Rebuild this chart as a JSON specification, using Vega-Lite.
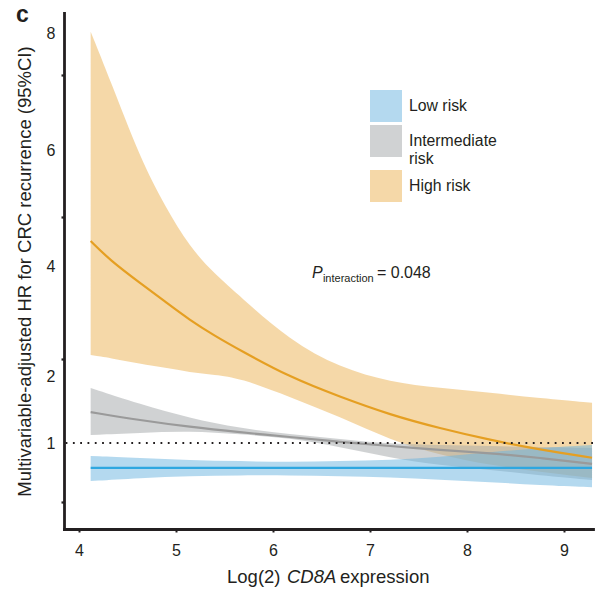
{
  "$schema": "https://vega.github.io/schema/vega-lite/v6.json",
  "width": 529,
  "height": 516,
  "autosize": {"type": "none"},
  "padding": {"left": 64, "top": 13, "right": 5, "bottom": 63},
  "background": "white",
  "config": {"view": {"stroke": null}, "font": "Liberation Sans"},
  "data": {"values": [
    {"group": "High risk", "x": 4.12, "hr": 4.43, "lo": 2.38, "hi": 8.02},
    {"group": "High risk", "x": 4.32, "hr": 4.1, "lo": 2.33, "hi": 7.20},
    {"group": "High risk", "x": 4.63, "hr": 3.69, "lo": 2.22, "hi": 5.86},
    {"group": "High risk", "x": 4.89, "hr": 3.35, "lo": 2.15, "hi": 5.02},
    {"group": "High risk", "x": 5.14, "hr": 3.02, "lo": 2.07, "hi": 4.33},
    {"group": "High risk", "x": 5.40, "hr": 2.73, "lo": 2.02, "hi": 3.85},
    {"group": "High risk", "x": 5.66, "hr": 2.47, "lo": 1.97, "hi": 3.45},
    {"group": "High risk", "x": 6.17, "hr": 1.985, "lo": 1.69, "hi": 2.65},
    {"group": "High risk", "x": 6.69, "hr": 1.69, "lo": 1.39, "hi": 2.15},
    {"group": "High risk", "x": 7.21, "hr": 1.42, "lo": 1.045, "hi": 1.91},
    {"group": "High risk", "x": 7.72, "hr": 1.22, "lo": 0.82, "hi": 1.82},
    {"group": "High risk", "x": 8.24, "hr": 1.045, "lo": 0.67, "hi": 1.75},
    {"group": "High risk", "x": 8.75, "hr": 0.90, "lo": 0.57, "hi": 1.67},
    {"group": "High risk", "x": 9.29, "hr": 0.78, "lo": 0.48, "hi": 1.60},
    {"group": "Intermediate risk", "x": 4.12, "hr": 1.46, "lo": 1.12, "hi": 1.82},
    {"group": "Intermediate risk", "x": 4.63, "hr": 1.34, "lo": 1.15, "hi": 1.58},
    {"group": "Intermediate risk", "x": 5.14, "hr": 1.24, "lo": 1.18, "hi": 1.37},
    {"group": "Intermediate risk", "x": 5.66, "hr": 1.16, "lo": 1.13, "hi": 1.22},
    {"group": "Intermediate risk", "x": 6.17, "hr": 1.09, "lo": 1.075, "hi": 1.13},
    {"group": "Intermediate risk", "x": 6.69, "hr": 1.015, "lo": 0.94, "hi": 1.06},
    {"group": "Intermediate risk", "x": 7.21, "hr": 0.955, "lo": 0.78, "hi": 0.985},
    {"group": "Intermediate risk", "x": 7.72, "hr": 0.895, "lo": 0.67, "hi": 0.97},
    {"group": "Intermediate risk", "x": 8.24, "hr": 0.85, "lo": 0.60, "hi": 0.955},
    {"group": "Intermediate risk", "x": 8.75, "hr": 0.78, "lo": 0.52, "hi": 0.94},
    {"group": "Intermediate risk", "x": 9.29, "hr": 0.69, "lo": 0.45, "hi": 0.925},
    {"group": "Low risk", "x": 4.12, "hr": 0.63, "lo": 0.433, "hi": 0.806},
    {"group": "Low risk", "x": 4.63, "hr": 0.63, "lo": 0.478, "hi": 0.776},
    {"group": "Low risk", "x": 5.14, "hr": 0.63, "lo": 0.507, "hi": 0.746},
    {"group": "Low risk", "x": 5.66, "hr": 0.63, "lo": 0.52, "hi": 0.73},
    {"group": "Low risk", "x": 6.17, "hr": 0.63, "lo": 0.52, "hi": 0.716},
    {"group": "Low risk", "x": 6.69, "hr": 0.63, "lo": 0.507, "hi": 0.73},
    {"group": "Low risk", "x": 7.21, "hr": 0.63, "lo": 0.49, "hi": 0.746},
    {"group": "Low risk", "x": 7.72, "hr": 0.63, "lo": 0.45, "hi": 0.79},
    {"group": "Low risk", "x": 8.24, "hr": 0.63, "lo": 0.42, "hi": 0.866},
    {"group": "Low risk", "x": 8.75, "hr": 0.63, "lo": 0.373, "hi": 0.925},
    {"group": "Low risk", "x": 9.29, "hr": 0.63, "lo": 0.343, "hi": 0.97}
  ]},
  "resolve": {"axis": {"y": "independent"}},
  "layer": [
    {
      "mark": {"type": "area", "opacity": 0.5, "interpolate": "basis"},
      "encoding": {
        "x": {"field": "x", "type": "quantitative",
          "scale": {"domain": [3.845, 9.30], "nice": false, "zero": false},
          "axis": {"values": [4, 5, 6, 7, 8, 9], "format": "d", "title": null, "grid": false,
            "domainColor": "#231f20", "domainWidth": 2.8, "domainCap": "square",
            "tickColor": "#231f20", "tickWidth": 2, "tickSize": 3,
            "labelFontSize": 16, "labelColor": "#231f20", "labelPadding": 10}},
        "y": {"field": "lo", "type": "quantitative",
          "scale": {"domain": [-0.28, 1, 2, 4, 6, 8, 8.34], "range": [516, 430, 363, 253, 137, 20, 0], "nice": false, "zero": false},
          "axis": {"orient": "left", "values": [1, 2, 4, 6, 8], "ticks": false, "tickSize": 0, "grid": false,
            "domainColor": "#231f20", "domainWidth": 2.8, "domainCap": "square",
            "labelFontSize": 16, "labelColor": "#231f20", "labelPadding": 9,
            "title": "Multivariable-adjusted HR for CRC recurrence (95%CI)",
            "titleFontSize": 18.5, "titleFontWeight": "normal", "titleColor": "#231f20",
            "titleX": -40, "titleY": 258, "titleAngle": 270, "titleAlign": "center", "titleBaseline": "middle"}},
        "y2": {"field": "hi"},
        "fill": {"field": "group", "type": "nominal",
          "scale": {"domain": ["Low risk", "Intermediate risk", "High risk"], "range": ["#6ab3e0", "#a2a6a8", "#ebb152"]},
          "legend": {"orient": "none", "legendX": 306, "legendY": 77, "title": null,
            "symbolType": "square", "symbolSize": 1024, "symbolStrokeWidth": 0,
            "labelFontSize": 15.8, "labelColor": "#231f20", "labelOffset": 7, "rowPadding": 3, "labelLimit": 0,
            "labelExpr": "datum.label == 'Intermediate risk' ? ['Intermediate', 'risk'] : datum.label"}}
      }
    },
    {
      "mark": {"type": "line", "interpolate": "basis", "strokeWidth": 2.2},
      "encoding": {
        "x": {"field": "x", "type": "quantitative"},
        "y": {"field": "hr", "type": "quantitative",
          "axis": {"orient": "left", "values": [0.12, 2.31, 4.845, 7.28], "labels": false, "domain": false, "grid": false, "title": null,
            "ticks": true, "tickSize": 3, "tickWidth": 2.2, "tickColor": "#231f20"}},
        "stroke": {"field": "group", "type": "nominal",
          "scale": {"domain": ["Low risk", "Intermediate risk", "High risk"], "range": ["#2ea7e0", "#9a9a9a", "#e59f22"]},
          "legend": null}
      }
    },
    {
      "data": {"values": [{"ref": 1}]},
      "mark": {"type": "rule", "color": "#231f20", "strokeWidth": 1.8, "strokeDash": [1.8, 5.5]},
      "encoding": {"y": {"field": "ref", "type": "quantitative", "axis": null}}
    },
    {
      "data": {"values": [{"label": "P", "tx": 6.402, "ty": 3.78}]},
      "mark": {"type": "text", "align": "left", "baseline": "alphabetic", "color": "#231f20", "fontSize": 16, "fontStyle": "italic"},
      "encoding": {
        "x": {"field": "tx", "type": "quantitative"},
        "y": {"field": "ty", "type": "quantitative", "axis": null},
        "text": {"field": "label"}
      }
    },
    {
      "data": {"values": [{"label": "interaction", "tx": 6.515, "ty": 3.71}]},
      "mark": {"type": "text", "align": "left", "baseline": "alphabetic", "color": "#231f20", "fontSize": 11},
      "encoding": {
        "x": {"field": "tx", "type": "quantitative"},
        "y": {"field": "ty", "type": "quantitative", "axis": null},
        "text": {"field": "label"}
      }
    },
    {
      "data": {"values": [{"label": "= 0.048", "tx": 7.072, "ty": 3.78}]},
      "mark": {"type": "text", "align": "left", "baseline": "alphabetic", "color": "#231f20", "fontSize": 16},
      "encoding": {
        "x": {"field": "tx", "type": "quantitative"},
        "y": {"field": "ty", "type": "quantitative", "axis": null},
        "text": {"field": "label"}
      }
    },
    {
      "data": {"values": [{"label": "Log(2)", "tx": 5.526, "ty": -1.084}, {"label": "expression", "tx": 6.691, "ty": -1.084}]},
      "mark": {"type": "text", "align": "left", "baseline": "alphabetic", "color": "#231f20", "fontSize": 18.5},
      "encoding": {
        "x": {"field": "tx", "type": "quantitative"},
        "y": {"field": "ty", "type": "quantitative", "axis": null},
        "text": {"field": "label"}
      }
    },
    {
      "data": {"values": [{"label": "CD8A", "tx": 6.144, "ty": -1.084}]},
      "mark": {"type": "text", "align": "left", "baseline": "alphabetic", "color": "#231f20", "fontSize": 18.5, "fontStyle": "italic"},
      "encoding": {
        "x": {"field": "tx", "type": "quantitative"},
        "y": {"field": "ty", "type": "quantitative", "axis": null},
        "text": {"field": "label"}
      }
    },
    {
      "data": {"values": [{"label": "c", "tx": 3.35, "ty": 8.19}]},
      "mark": {"type": "text", "align": "left", "baseline": "alphabetic", "color": "#231f20", "fontSize": 23, "fontWeight": "bold"},
      "encoding": {
        "x": {"field": "tx", "type": "quantitative"},
        "y": {"field": "ty", "type": "quantitative", "axis": null},
        "text": {"field": "label"}
      }
    }
  ]
}
